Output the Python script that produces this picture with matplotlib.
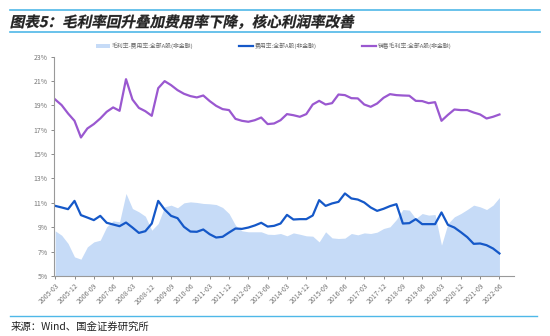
import matplotlib
matplotlib.use("Agg")
import matplotlib.pyplot as plt
import numpy as np
from matplotlib.textpath import TextPath
from matplotlib.patches import PathPatch
from matplotlib.font_manager import FontProperties
from matplotlib.transforms import Affine2D

plt.rcParams['font.family'] = ['Noto Sans CJK SC', 'DejaVu Sans']

# quarterly data, 2005-03 .. 2022-06
quarters = []
for yr in range(2005, 2023):
    for m in ("03", "06", "09", "12"):
        quarters.append(f"{yr}-{m}")
quarters = quarters[:70]

gross = [19.49, 19.03, 18.34, 17.74, 16.37, 17.11, 17.47, 17.93, 18.48, 18.84,
         18.56, 21.16, 19.49, 18.80, 18.53, 18.15, 20.42, 21.00, 20.67, 20.26,
         19.96, 19.77, 19.66, 19.82, 19.36, 18.97, 18.70, 18.62, 17.90, 17.74,
         17.66, 17.79, 18.01, 17.47, 17.52, 17.79, 18.29, 18.20, 18.07, 18.29,
         19.08, 19.38, 19.08, 19.19, 19.90, 19.85, 19.60, 19.58, 19.08, 18.89,
         19.16, 19.63, 19.93, 19.85, 19.82, 19.80, 19.38, 19.36, 19.19, 19.27,
         17.74, 18.23, 18.67, 18.62, 18.62, 18.42, 18.26, 17.93, 18.07, 18.26]

expense = [10.75, 10.62, 10.48, 11.16, 9.99, 9.79, 9.58, 9.93, 9.36, 9.22,
           9.08, 9.38, 8.97, 8.53, 8.67, 9.30, 11.16, 10.45, 9.93, 9.74,
           9.03, 8.64, 8.62, 8.81, 8.42, 8.15, 8.21, 8.56, 8.89, 8.86,
           8.97, 9.14, 9.36, 9.05, 9.11, 9.30, 10.01, 9.63, 9.66, 9.66,
           9.96, 11.22, 10.75, 10.95, 11.08, 11.77, 11.36, 11.27, 11.03, 10.62,
           10.34, 10.51, 10.73, 10.89, 9.30, 9.33, 9.66, 9.25, 9.25, 9.25,
           10.21, 9.19, 8.97, 8.59, 8.18, 7.63, 7.66, 7.52, 7.25, 6.84]

spread = [8.70, 8.34, 7.66, 6.56, 6.37, 7.38, 7.79, 7.93, 9.03, 9.52,
          9.44, 11.77, 10.53, 10.26, 9.90, 8.75, 9.30, 10.67, 10.81, 10.59,
          11.00, 11.08, 11.03, 10.95, 10.92, 10.86, 10.62, 10.12, 9.16, 8.70,
          8.62, 8.62, 8.62, 8.42, 8.40, 8.48, 8.29, 8.53, 8.42, 8.29,
          8.26, 7.79, 8.62, 8.12, 8.07, 8.10, 8.48, 8.37, 8.53, 8.48,
          8.59, 8.89, 9.03, 9.63, 10.45, 10.40, 9.71, 10.12, 9.99, 10.04,
          7.52, 9.30, 9.85, 10.12, 10.45, 10.81, 10.67, 10.45, 10.81, 11.44]

yticks = [5, 7, 9, 11, 13, 15, 17, 19, 21, 23]
title = "图表5：毛利率回升叠加费用率下降，核心利润率改善"

c_area = "#c6dbf7"
c_exp = "#1558c8"
c_gross = "#9a58d0"
c_frame = "#4fb8e8"

fig = plt.figure(figsize=(5.5, 3.36), dpi=100)
ax = fig.add_axes([0.098, 0.179, 0.837, 0.652])

x = np.arange(len(quarters))
ax.fill_between(x, 0, spread, color=c_area, lw=0, label="毛利率-费用率:全部A股(非金融)")
ax.plot(x, expense, color=c_exp, lw=1.6, label="费用率:全部A股(非金融)")
ax.plot(x, gross, color=c_gross, lw=1.6, label="销售毛利率:全部A股(非金融)")

ax.set_xlim(-0.2, 71.3)
ax.set_ylim(5, 23)
ax.set_yticks(yticks)
ax.set_yticklabels([f"{v}%" for v in yticks])
ax.set_xticks(x[::3])
ax.set_xticklabels(quarters[::3], rotation=45, ha="right", rotation_mode="anchor")
ax.tick_params(labelsize=5, colors="#777777", length=2.5, width=0.6, pad=2)
for s in ("top", "right"):
    ax.spines[s].set_visible(False)
for s in ("left", "bottom"):
    ax.spines[s].set_color("#999999")
    ax.spines[s].set_linewidth(0.8)

leg = ax.legend(loc="center", bbox_to_anchor=(0.477, 1.05), ncol=3, frameon=False,
                fontsize=4.2, columnspacing=7.8, handlelength=2.4, handletextpad=0.3)
for t in leg.get_texts():
    t.set_color("#666666")

# header / footer decoration
fig.add_artist(plt.Line2D([0.018, 0.982], [0.970, 0.970], color=c_frame, lw=1.2))
fig.add_artist(plt.Line2D([0.018, 0.982], [0.905, 0.905], color=c_frame, lw=1.2))
fig.add_artist(plt.Line2D([0.018, 0.976], [0.060, 0.060], color=c_frame, lw=1.0))

# slanted title (CJK font has no italic face)
tp = TextPath((0, 0), title, size=10.5,
              prop=FontProperties(family="Noto Sans CJK SC", weight="bold"))
tr = Affine2D().skew_deg(12, 0).translate(7.0, 222.5).scale(1 / 72) + fig.dpi_scale_trans
fig.add_artist(PathPatch(tp, transform=tr, facecolor="#222222", edgecolor="#222222", lw=0.2))

fig.text(0.020, 0.028, "来源：Wind、国金证券研究所", fontsize=7.5, color="#222222", va="center")

fig.savefig("out.png", dpi=100)
